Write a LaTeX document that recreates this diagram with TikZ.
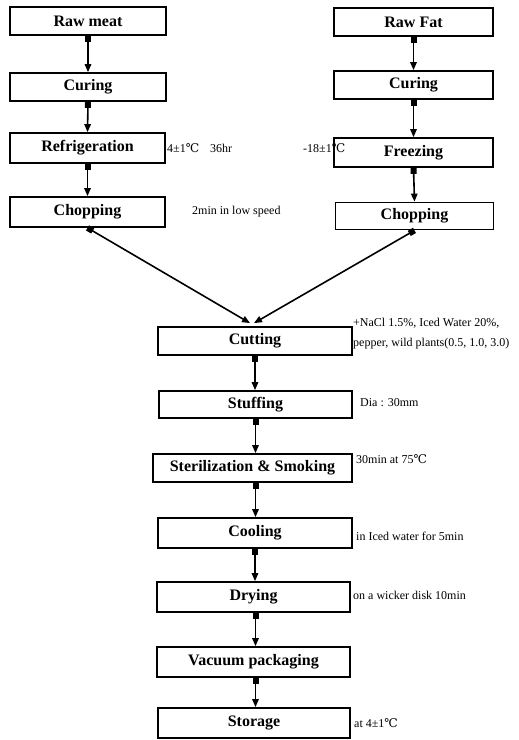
\documentclass[tikz,border=0pt]{standalone}
\usepackage{fontspec}
\setmainfont{Liberation Serif}
\newfontfamily\degfont{DejaVu Serif}
\usetikzlibrary{arrows.meta}
\newcommand{\degC}{{\degfont ℃}}

\begin{document}
\begin{tikzpicture}[x=1pt, y=-1pt,
  stage/.style={draw, line width=1.8pt, minimum height=28pt, inner sep=0pt,
    font=\fontsize{16}{16}\selectfont\bfseries},
  note/.style={anchor=west, inner sep=0pt, font=\fontsize{12}{14}\selectfont},
  flow/.style={line width=1.6pt,
    {Square[length=6pt,width=6pt]}-{Triangle[length=8pt,width=6.5pt]}}]
\useasboundingbox (0,0) rectangle (519,740);
%
% meat line
\node[stage, minimum width=156pt] (meat) at (88,21) {Raw meat};
\node[stage, minimum width=156pt] (curL) at (88,87) {Curing};
\node[stage, minimum width=155pt, minimum height=30pt] (refr) at (87.5,148) {Refrigeration};
\node[stage, minimum width=155pt, minimum height=30pt] (chopL) at (87.5,212) {Chopping};
%
% fat line
\node[stage, minimum width=159pt] (fat) at (413.5,22) {Raw Fat};
\node[stage, minimum width=159pt] (curR) at (413.5,85) {Curing};
\node[stage, minimum width=159pt, minimum height=29pt] (frz) at (413.5,152.5) {Freezing};
\node[stage, minimum width=158pt, minimum height=27pt] (chopR) at (414.5,216) {Chopping};
%
% sausage line
\node[stage, minimum width=194pt] (cut) at (255,341) {Cutting};
\node[stage, minimum width=193pt, minimum height=27pt] (stuff) at (255.5,404.5) {Stuffing};
\node[stage, minimum width=199pt] (ster) at (252.5,468) {Sterilization \& Smoking};
\node[stage, minimum width=194pt, minimum height=30pt] (cool) at (255,533) {Cooling};
\node[stage, minimum width=193pt, minimum height=30pt] (dry) at (253.5,597) {Drying};
\node[stage, minimum width=193pt, minimum height=30pt] (vac) at (253.5,662) {Vacuum packaging};
\node[stage, minimum width=192pt, minimum height=30pt] (stor) at (254,723) {Storage};
%
\draw[flow] (meat.south) -- (curL.north);
\draw[flow] (curL.south) -- (refr.north);
\draw[flow] (refr.south) -- (chopL.north);
\draw[flow] (fat.south) -- (curR.north);
\draw[flow] (curR.south) -- (frz.north);
\draw[flow] (frz.south) -- (chopR.north);
\draw[flow] (chopL.south) -- ([xshift=-5pt, yshift=3pt]cut.north);
\draw[flow] (chopR.south) -- ([xshift=-1pt, yshift=3pt]cut.north);
\draw[flow] (cut.south) -- (cut.south |- stuff.north);
\draw[flow] (stuff.south) -- (stuff.south |- ster.north);
\draw[flow] ([xshift=3pt]ster.south) -- ([xshift=3pt]ster.south |- cool.north);
\draw[flow] (cool.south) -- (cool.south |- dry.north);
\draw[flow] ([xshift=2pt]dry.south) -- ([xshift=2pt]dry.south |- vac.north);
\draw[flow] ([xshift=2pt]vac.south) -- ([xshift=2pt]vac.south |- stor.north);
%
% conditions
\node[note] (t1) at (167,148) {4±1\degC};
\node[note] (t2) at (210,148) {36hr};
\node[note] (t3) at (303,148) {-18±1\degC};
\node[note] (t4) at (192,212) {2min in low speed};
\node[note] (t5) at (353,323) {+NaCl 1.5\%, Iced Water 20\%,};
\node[note] (t6) at (353,344) {pepper, wild plants(0.5, 1.0, 3.0)};
\node[note] (t7) at (360,403) {Dia : 30mm};
\node[note] (t8) at (356,459) {30min at 75\degC};
\node[note] (t9) at (356,536) {in Iced water for 5min};
\node[note] (t10) at (353,595) {on a wicker disk 10min};
\node[note] (t11) at (354,723) {at 4±1\degC};
\end{tikzpicture}
\end{document}
